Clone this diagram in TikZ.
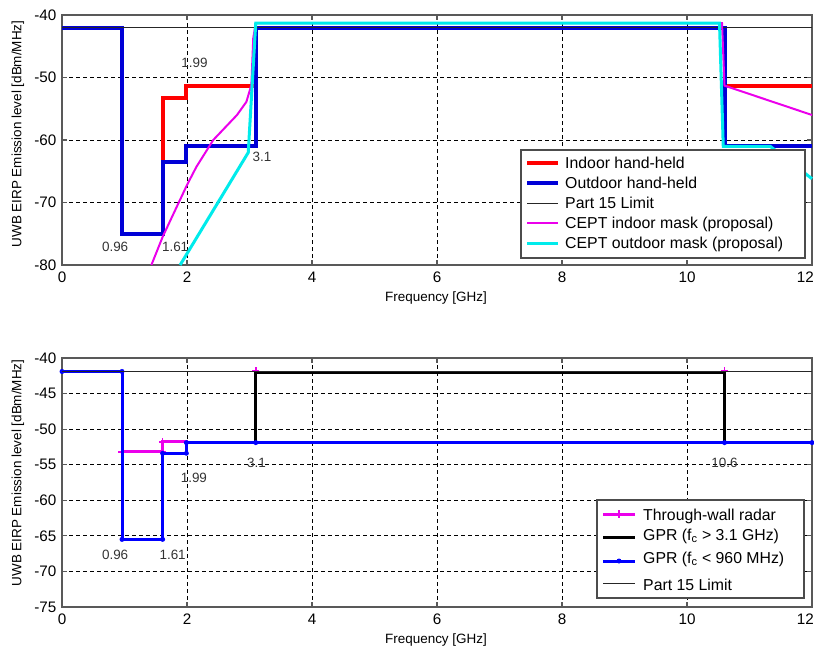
\documentclass[tikz,border=0pt]{standalone}
\usepackage{fontspec}
\setmainfont{Liberation Sans}
\usetikzlibrary{calc}
\definecolor{mlmagenta}{RGB}{235,0,235}
\definecolor{mlcyan}{RGB}{0,235,235}
\definecolor{mlblue}{RGB}{0,0,215}
\newcommand\panel[5]{
    \foreach \f in {2,4,...,10}
    {
        \draw[gridline] (\f,#1) -- (\f,#2);
    }
    \foreach \v in {#3}
    {
        \draw[gridline] (0,\v) -- (12,\v);
    }
    \foreach \f in {0,2,...,12}
    {
        \draw[tickmark] (\f,#1) -- ++(0,1.5mm);
        \draw[tickmark] (\f,#2) -- ++(0,-1.5mm);
    }
    \foreach \f in {0,2,...,10}
    {
        \node[ticklabel, anchor=north] (#5x\f) at ([yshift=-2mm]\f,#1) {\f};
    }
    \node[ticklabel, anchor=north east] (#5x12) at ([xshift=0.6mm, yshift=-2mm]12,#1) {12};
    \foreach \v [count=\k] in {#4}
    {
        \draw[tickmark] (0,\v) -- ++(1.5mm,0);
        \draw[tickmark] (12,\v) -- ++(-1.5mm,0);
        \node[ticklabel, anchor=east] (#5y\k) at ([xshift=-1.6mm]0,\v) {\v};
    }
    \draw[frame] (0,#1) rectangle (12,#2);
}
\newcommand\plusmark[1]{
    \draw[mlmagenta, line width=0.45mm] #1 +(-1.1mm,0) -- +(1.1mm,0) #1 +(0,-1.1mm) -- +(0,1.1mm);
}

\begin{document}
\begin{tikzpicture}[x=0.3mm, y=-0.3mm,
        gridline/.style={black, line width=0.25mm, dash pattern=on 1.2mm off 0.9mm},
        frame/.style={draw=black!65, line width=0.5mm},
        tickmark/.style={black!65, line width=0.35mm},
        ticklabel/.style={font=\fontsize{13}{15}\selectfont, inner sep=0pt},
        axlabel/.style={font=\fontsize{11.5}{13}\selectfont, inner sep=0pt},
        bplabel/.style={font=\fontsize{11.5}{13}\selectfont, inner sep=0pt, text=black!80},
        legtext/.style={font=\fontsize{13.5}{15}\selectfont, inner sep=0pt, anchor=base west},
        legbox/.style={draw=black!70, fill=white, line width=0.4mm},
        indoor/.style={red, line width=1.2mm},
        outdoor/.style={mlblue, line width=1.2mm},
        partlim/.style={black!85, line width=0.3mm},
        ceptin/.style={mlmagenta, line width=0.6mm},
        ceptout/.style={mlcyan, line width=0.9mm},
        twr/.style={mlmagenta, line width=0.9mm},
        gprhi/.style={black, line width=0.9mm},
        gprlo/.style={blue, line width=0.9mm}
    ]
    \useasboundingbox (0,0) rectangle (814,648);

    % upper panel
    \begin{scope}[shift={(62,-235)}, x=18.75mm, y=1.875mm]
        \panel{-80}{-40}{-50,-60,-70}{-40,-50,...,-80}{t}
        \draw[indoor] (0,-42) -- (0.96,-42) -- (0.96,-75) -- (1.61,-75) -- (1.61,-53.3)
            -- (1.99,-53.3) -- (1.99,-51.3) -- (3.1,-51.3) -- (3.1,-42) -- (10.6,-42)
            -- (10.6,-51.3) -- (12,-51.3);
        \draw[outdoor] (0,-42) -- (0.96,-42) -- (0.96,-75) -- (1.61,-75) -- (1.61,-63.5)
            -- (1.99,-63.5) -- (1.99,-61) -- (3.1,-61) -- (3.1,-42) -- (10.6,-42)
            -- (10.6,-61) -- (12,-61);
        \draw[partlim] (0,-42) -- (12,-42);
        \draw[ceptin] (1.43,-80) -- (1.61,-75.5) -- (2,-67.2) -- (2.15,-64.3) -- (2.42,-60)
            -- (2.8,-56) -- (2.95,-53.9) -- (3.03,-51.2) -- (3.06,-43.7) -- (3.1,-41.3)
            -- (10.56,-41.3) -- (10.6,-51.3) -- (12,-56);
        \draw[ceptout] (1.89,-80) -- (2.98,-62) -- (3.1,-41.3) -- (10.52,-41.3)
            -- (10.58,-61) -- (11.33,-61) -- (12,-66.2);
        \node[bplabel] (a199) at (2.12,-47.7) {1.99};
        \node[bplabel] (a31) at (3.2,-62.7) {3.1};
        \node[bplabel] (a096) at (0.85,-77.1) {0.96};
        \node[bplabel] (a161) at (1.81,-77.1) {1.61};
    \end{scope}

    % lower panel
    \begin{scope}[shift={(62,73.4)}, x=18.75mm, y=2.1342mm]
        \panel{-75}{-40}{-45,-50,...,-70}{-40,-45,...,-75}{b}
        \draw[twr] (0.96,-53.2) -- (1.61,-53.2) -- (1.61,-51.8) -- (1.99,-51.8) -- (1.99,-51.9)
            -- (3.1,-51.9) -- (3.1,-42) -- (10.6,-42) -- (10.6,-51.9) -- (12,-51.9);
        \foreach \p in {(0.96,-53.2),(1.61,-53.2),(1.61,-51.8),(3.1,-41.8),(10.6,-41.8)}
        {
            \plusmark{\p}
        }
        \draw[gprhi] (3.1,-51.9) -- (3.1,-42) -- (10.6,-42) -- (10.6,-51.9);
        \draw[gprlo] (0,-41.9) -- (0.96,-41.9) -- (0.96,-65.5) -- (1.61,-65.5) -- (1.61,-53.4)
            -- (1.99,-53.4) -- (1.99,-51.9) -- (12,-51.9);
        \foreach \p in {(0,-41.9),(0.96,-41.9),(0.96,-65.5),(1.61,-65.5),(1.61,-53.4),
            (1.99,-53.4),(1.99,-51.9),(3.1,-51.9),(10.6,-51.9),(12,-51.9)}
        {
            \fill[blue] \p circle (0.75mm);
        }
        \draw[partlim] (0,-41.9) -- (12,-41.9);
        \node[bplabel] (b096) at (0.85,-67.7) {0.96};
        \node[bplabel] (b161) at (1.77,-67.7) {1.61};
        \node[bplabel] (b199) at (2.11,-56.9) {1.99};
        \node[bplabel] (b31) at (3.11,-54.8) {3.1};
        \node[bplabel] (b106) at (10.6,-54.8) {10.6};
    \end{scope}

    % legends
    \draw[legbox] (521,150) rectangle (805,258);
    \foreach \st/\txt [count=\k] in {indoor/Indoor hand-held, outdoor/Outdoor hand-held,
        partlim/Part 15 Limit, ceptin/CEPT indoor mask (proposal),
        ceptout/CEPT outdoor mask (proposal)}
    {
        \draw[\st] (527,{143+20*\k}) -- (558,{143+20*\k});
        \node[legtext] (lt\k) at (565,{148.5+20*\k}) {\txt};
    }
    \draw[legbox] (597,500) rectangle (804,598);
    \draw[twr] (603,514) -- (635,514);
    \plusmark{(619,514)}
    \draw[gprhi] (603,537) -- (635,537);
    \draw[gprlo] (603,561) -- (635,561);
    \fill[blue] (619,561) circle (0.75mm);
    \draw[partlim] (603,583) -- (635,583);
    \node[legtext] (lb1) at (643,520) {Through-wall radar};
    \node[legtext] (lb2) at (643,540) {GPR (f\textsubscript{c} > 3.1 GHz)};
    \node[legtext] (lb3) at (643,563) {GPR (f\textsubscript{c} < 960 MHz)};
    \node[legtext] (lb4) at (643,590) {Part 15 Limit};

    % axis titles
    \node[axlabel] (fq1) at (436,298) {Frequency [GHz]};
    \node[axlabel] (fq2) at (436,640) {Frequency [GHz]};
    \node[axlabel, rotate=90] (lv1) at (18,134) {UWB EIRP Emission level [dBm/MHz]};
    \node[axlabel, rotate=90] (lv2) at (18,473) {UWB EIRP Emission level [dBm/MHz]};
\end{tikzpicture}
\end{document}
